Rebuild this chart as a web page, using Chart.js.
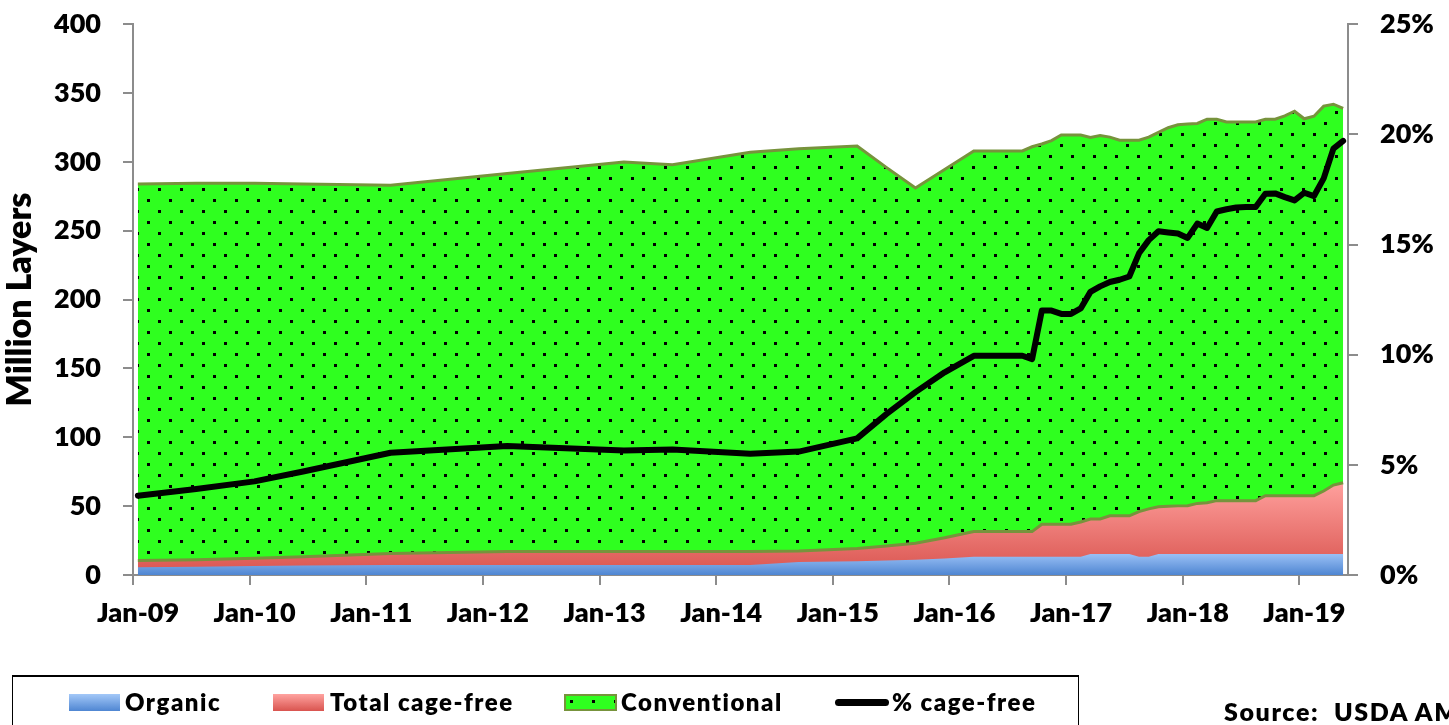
<!DOCTYPE html>
<html>
<head>
<meta charset="utf-8">
<script src="https://cdn.jsdelivr.net/npm/chart.js@4.4.1/dist/chart.umd.min.js"></script>
<style>
body{margin:0;background:#fff;overflow:hidden;width:1449px;height:725px;position:relative;font-family:Lato,sans-serif;font-weight:800}
#wrap{position:absolute;left:0;top:-14px;width:1449px;height:739px}
#legendBox{position:absolute;left:12px;top:675px;width:1067px;height:70px;border:1px solid #000;border-top:2px solid #000;box-sizing:border-box}
.sw{position:absolute;top:694px;height:17px}
.lt{position:absolute;top:688px;font-size:24px;line-height:28px;letter-spacing:1.5px;white-space:nowrap}
#source{position:absolute;left:1224px;top:697px;font-size:25px;line-height:28px;letter-spacing:1.6px;white-space:nowrap}
</style>
</head>
<body>
<div id="wrap"><canvas id="chart"></canvas></div>
<div id="legendBox"></div>
<div class="sw" style="left:69px;width:51px;background:linear-gradient(#a3c8f8,#4f86d2)"></div>
<div class="lt" style="left:125px">Organic</div>
<div class="sw" style="left:273px;width:51px;background:linear-gradient(#ffa3a0,#d9544f)"></div>
<div class="lt" style="left:330px">Total cage-free</div>
<div class="sw" id="convSw" style="left:564px;width:53px;box-sizing:border-box;border:2px solid #77933c;background:#2fff1f"></div>
<div class="lt" style="left:621px">Conventional</div>
<div style="position:absolute;left:835px;top:699px;width:54px;height:7px;border-radius:4px;background:#000"></div>
<div class="lt" style="left:892px">% cage-free</div>
<div id="source">Source:&nbsp; USDA AMS</div>
<script>
// months since Jan-09 where the series change slope
const months = [0, 6, 12, 17, 26, 38, 50, 55, 63, 68, 74, 77, 80, 83, 86, 88, 91, 92, 93, 94,
  95, 96, 97, 98, 99, 100, 101, 102, 103, 104, 105, 106, 107, 108, 109, 110, 111, 112, 113, 114,
  115, 116, 117, 118, 119, 120, 121, 122, 123, 124]

const organic = [5.6, 6.0, 6.5, 6.9, 7.3, 7.3, 7.3, 7.3, 7.3, 9.4, 10, 10.5, 11, 12, 13.3, 13.3, 13.3, 13.3, 13.3, 13.3,
  13.3, 13.3, 13.3, 15.2, 15.2, 15.2, 15.2, 15.2, 13.3, 13.3, 15.2, 15.2, 15.2, 15.2, 15.2, 15.2, 15.2, 15.2, 15.2, 15.2,
  15.2, 15.2, 15.2, 15.2, 15.2, 15.2, 15.2, 15.2, 15.2, 15.2]

const cageFree = [10.5, 11.0, 12.2, 13.3, 15.7, 17.1, 17.0, 17.0, 17.0, 17.5, 19.3, 21, 23, 27, 31.5, 31.5, 31.5, 31.5, 36.8, 36.8,
  36.8, 36.8, 38.5, 40.7, 40.7, 43, 43, 43, 46, 48, 49.6, 50, 50.2, 50.3, 52, 52.5, 54, 54, 54, 54,
  54, 57.6, 57.6, 57.6, 57.6, 57.6, 57.6, 61, 65.3, 67]

const conventional = [273.5, 273.5, 272.3, 270.7, 267.3, 274.4, 283, 281, 290, 292, 292.2, 275, 258, 267.5, 276.5, 276.5, 276.5, 279.5, 276.2, 278.7,
  282.7, 282.7, 281, 277, 278.5, 275, 272.8, 272.8, 269.8, 270, 271.8, 274.8, 276.8, 277.2, 275.9, 278.5, 277, 275, 275, 275,
  275, 273.4, 273.4, 275.8, 279.2, 273.7, 275.6, 279.5, 276.6, 271.8]

const pctCageFree = [3.6, 3.9, 4.25, 4.7, 5.55, 5.85, 5.65, 5.7, 5.5, 5.6, 6.2, 7.3, 8.3, 9.2, 9.95, 9.95, 9.95, 9.8, 12.0, 12.0,
  11.85, 11.85, 12.1, 12.85, 13.1, 13.3, 13.4, 13.55, 14.6, 15.2, 15.6, 15.55, 15.5, 15.3, 15.95, 15.75, 16.5, 16.6, 16.68, 16.7,
  16.7, 17.3, 17.32, 17.15, 17.0, 17.35, 17.2, 18.0, 19.35, 19.7]

const tickLabels = ['Jan-09', 'Jan-10', 'Jan-11', 'Jan-12', 'Jan-13', 'Jan-14', 'Jan-15', 'Jan-16', 'Jan-17', 'Jan-18', 'Jan-19']

// dotted green fill
const tile = document.createElement('canvas')
tile.width = 22
tile.height = 22
const tc = tile.getContext('2d')
tc.fillStyle = '#2fff1f'
tc.fillRect(0, 0, 22, 22)
tc.fillStyle = '#000'
tc.fillRect(4, 4, 3, 3)
tc.fillRect(15, 15, 3, 3)
const dots = tc.createPattern(tile, 'repeat')

const sw = document.getElementById('convSw')
sw.style.backgroundImage = 'url(' + tile.toDataURL() + ')'

function vGrad(chart, top, light, dark){
	if(!chart.chartArea) return light
	const y = chart.scales.y
	const g = chart.ctx.createLinearGradient(0, y.getPixelForValue(top), 0, y.getPixelForValue(0))
	g.addColorStop(0, light)
	g.addColorStop(1, dark)
	return g
}

const pts = arr => months.map((m, i) => ({x: m, y: arr[i]}))

Chart.defaults.font.family = 'Lato'
Chart.defaults.font.weight = 800
Chart.defaults.color = '#000'

const axisGrid = {drawOnChartArea: false, drawTicks: true, tickLength: 10, color: '#8c8c8c', tickColor: '#8c8c8c', tickWidth: 2, lineWidth: 2}
const axisBorder = {display: true, color: '#8c8c8c', width: 2}

new Chart(document.getElementById('chart'), {
	type: 'line',
	data: {
		datasets: [
			{label: 'Organic', data: pts(organic), stack: 'org', fill: 'origin', borderWidth: 0, pointRadius: 0,
				backgroundColor: c => vGrad(c.chart, 16, '#9dc3f7', '#4f86d2')},
			{label: 'Total cage-free', data: pts(cageFree), stack: 'cf', fill: 'origin', borderColor: '#77933c', borderWidth: 3, pointRadius: 0,
				backgroundColor: c => vGrad(c.chart, 67, '#ffa09d', '#d9544f')},
			{label: 'Conventional', data: pts(conventional), stack: 'cf', fill: '-1', borderColor: '#77933c', borderWidth: 3, pointRadius: 0,
				backgroundColor: dots},
			{label: '% cage-free', data: pts(pctCageFree), yAxisID: 'y2', order: -1, fill: false, borderColor: '#000', borderWidth: 6,
				pointRadius: 0, borderCapStyle: 'round', borderJoinStyle: 'round'}
		]
	},
	options: {
		responsive: true,
		maintainAspectRatio: false,
		animation: false,
		layout: {padding: {top: 10, left: 0, right: 0, bottom: 0}},
		plugins: {legend: {display: false}, tooltip: {enabled: false}},
		scales: {
			x: {
				type: 'linear', min: -0.5, max: 124.5,
				afterBuildTicks: s => { s.ticks = tickLabels.map((t, i) => ({value: i * 12 - 0.5})) },
				ticks: {autoSkip: false, maxRotation: 0, labelOffset: 5, padding: 12, font: {size: 27}, callback: (v, i) => tickLabels[i]},
				grid: axisGrid, border: axisBorder,
				afterFit: s => { s.height = 150 }
			},
			y: {
				stacked: true, min: 0, max: 400,
				ticks: {stepSize: 50, padding: 22, font: {size: 27}},
				grid: axisGrid, border: axisBorder,
				title: {display: true, text: 'Million Layers', font: {size: 34, weight: 800}, padding: {top: 0, bottom: 0}},
				afterFit: s => { s.width = 133 }
			},
			y2: {
				position: 'right', min: 0, max: 25,
				ticks: {stepSize: 5, padding: 22, font: {size: 27}, callback: v => v + '%'},
				grid: axisGrid, border: axisBorder,
				afterFit: s => { s.width = 101 }
			}
		}
	}
})
</script>
</body>
</html>
